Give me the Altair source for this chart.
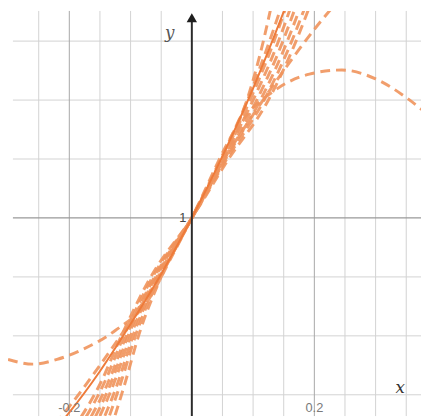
import altair as alt
import pandas as pd

# ---- data ----
# solid curve
solid_x = [-0.25, -0.22, -0.2, -0.15, -0.1, -0.05, 0.0, 0.05, 0.1, 0.15, 0.17]
solid_y = [0.607, 0.645, 0.67, 0.74, 0.82, 0.905, 1.0, 1.105, 1.22, 1.35, 1.405]

# dashed curve with max/min (wave-like)
wave_x = [-0.30, -0.26, -0.22, -0.18, -0.125, -0.075, -0.03, 0.0, 0.04, 0.08, 0.139, 0.192, 0.245, 0.30, 0.353, 0.38]
wave_y = [0.760, 0.752, 0.760, 0.776, 0.809, 0.855, 0.94, 1.0, 1.075, 1.160, 1.219, 1.244, 1.251, 1.236, 1.202, 1.180]

# flatter dashed curve (upper right)
flat_x = [-0.24, -0.2, -0.15, -0.1, -0.05, 0.0, 0.05, 0.1, 0.15, 0.2, 0.24]
flat_y = [0.63, 0.68, 0.75, 0.825, 0.905, 1.0, 1.095, 1.175, 1.25, 1.32, 1.37]

# bundle of dashed curves: x position at each y level
bundle_y = [0.64, 0.72, 0.80, 0.90, 1.00, 1.10, 1.20, 1.28, 1.38]
bundle_x = [
    [-0.133, -0.109, -0.087, -0.050, 0.0, 0.045, 0.090, 0.112, 0.134],
    [-0.143, -0.116, -0.092, -0.053, 0.0, 0.047, 0.091, 0.120, 0.153],
    [-0.152, -0.121, -0.096, -0.055, 0.0, 0.049, 0.095, 0.127, 0.161],
    [-0.161, -0.127, -0.100, -0.057, 0.0, 0.051, 0.100, 0.134, 0.169],
    [-0.169, -0.132, -0.104, -0.059, 0.0, 0.053, 0.106, 0.141, 0.177],
    [-0.177, -0.137, -0.107, -0.061, 0.0, 0.055, 0.112, 0.148, 0.185],
    [-0.186, -0.143, -0.111, -0.064, 0.0, 0.057, 0.118, 0.155, 0.193],
    [-0.195, -0.149, -0.115, -0.067, 0.0, 0.060, 0.125, 0.162, 0.200],
]

# grid
x_minor = [-0.25, -0.15, -0.1, -0.05, 0.05, 0.1, 0.15, 0.25, 0.3, 0.35]
x_major = [-0.2, 0.2]
y_minor = [0.7, 0.8, 0.9, 1.1, 1.2, 1.3]
y_major = [1.0]
x_labels = [-0.2, 0.2]
x_label_text = ["-0.2", "0.2"]
y_labels = [1.0]
y_label_text = ["1"]

# ---- build tables ----
solid_df = pd.DataFrame({"x": solid_x, "y": solid_y, "i": range(len(solid_x))})
rows = []
for i, (a, b) in enumerate(zip(wave_x, wave_y)):
    rows.append({"c": "wave", "x": a, "y": b, "i": i})
for i, (a, b) in enumerate(zip(flat_x, flat_y)):
    rows.append({"c": "flat", "x": a, "y": b, "i": i})
for k, xs_ in enumerate(bundle_x):
    for i, (a, b) in enumerate(zip(xs_, bundle_y)):
        rows.append({"c": f"b{k}", "x": a, "y": b, "i": i})
dash_df = pd.DataFrame(rows)

H = 411
XD = [-0.3001, 0.3741]
YD = [0.6639, 1.3512]
xs = alt.Scale(domain=XD, nice=False, zero=False)
ys = alt.Scale(domain=YD, nice=False, zero=False)

def vrules(vals, color, w):
    return alt.Chart(pd.DataFrame({"x": vals})).mark_rule(color=color, strokeWidth=w).encode(
        x=alt.X("x:Q", scale=xs, axis=None), y=alt.value(0), y2=alt.value(H))

def hrules(vals, color, w):
    return alt.Chart(pd.DataFrame({"y": vals})).mark_rule(color=color, strokeWidth=w).encode(
        y=alt.Y("y:Q", scale=ys, axis=None), x=alt.value(5), x2=alt.value(419))

grid = (vrules(x_minor, "#d2d2d2", 1) + hrules(y_minor, "#d2d2d2", 1)
        + vrules(x_major, "#a8a8a8", 1) + hrules(y_major, "#999999", 1.2))

dashed = alt.Chart(dash_df).mark_line(
    color="#f0945c", strokeWidth=3, strokeDash=[10, 6], opacity=0.9,
    interpolate="monotone", clip=True
).encode(
    x=alt.X("x:Q", scale=xs, axis=None),
    y=alt.Y("y:Q", scale=ys, axis=None),
    detail="c:N",
    order="i:Q",
)

solid = alt.Chart(solid_df).mark_line(
    color="#ee7b3a", strokeWidth=2, interpolate="monotone", clip=True
).encode(
    x=alt.X("x:Q", scale=xs, axis=None),
    y=alt.Y("y:Q", scale=ys, axis=None),
    order="i:Q",
)

yaxis = alt.Chart(pd.DataFrame({"x": [0.0]})).mark_rule(color="#2b2b2b", strokeWidth=2).encode(
    x=alt.X("x:Q", scale=xs, axis=None), y=alt.value(8), y2=alt.value(H))
arrow = alt.Chart(pd.DataFrame({"x": [0.0]})).mark_point(
    shape="triangle-up", filled=True, color="#1e1e1e", size=110, opacity=1
).encode(x=alt.X("x:Q", scale=xs, axis=None), y=alt.value(7))

xlab = alt.Chart(pd.DataFrame({"x": x_labels, "t": x_label_text})).mark_text(
    font="Liberation Sans", fontSize=13, color="#7a7a7a", baseline="middle", align="center"
).encode(x=alt.X("x:Q", scale=xs, axis=None), y=alt.value(403), text="t:N")

ylab = alt.Chart(pd.DataFrame({"y": y_labels, "t": y_label_text})).mark_text(
    font="Liberation Sans", fontSize=13, color="#444444", baseline="middle", align="right"
).encode(y=alt.Y("y:Q", scale=ys, axis=None), x=alt.value(181), text="t:N")

xname = alt.Chart(pd.DataFrame({"t": ["x"]})).mark_text(
    font="DejaVu Serif", fontStyle="italic", fontSize=17, color="#333333"
).encode(x=alt.value(398), y=alt.value(383), text="t:N")
yname = alt.Chart(pd.DataFrame({"t": ["y"]})).mark_text(
    font="DejaVu Serif", fontStyle="italic", fontSize=17, color="#555555"
).encode(x=alt.value(164), y=alt.value(22), text="t:N")

chart = alt.layer(grid, dashed, solid, yaxis, arrow, xlab, ylab, xname, yname).properties(
    width=419, height=H,
    autosize=alt.AutoSizeParams(type="none"),
    padding=0,
).configure_view(stroke=None)

chart.save("out.html", embed_options={"renderer": "svg", "actions": False})
